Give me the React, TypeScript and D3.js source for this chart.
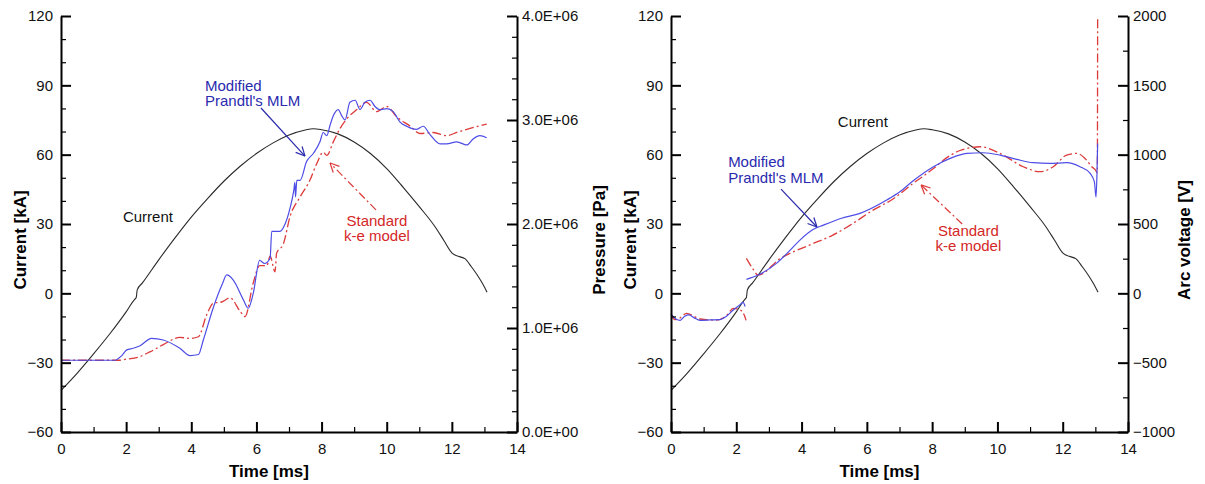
import React, { useEffect, useRef } from "react";
import * as d3 from "d3";

// discharge current, shared by both panels: time [ms] / current [kA]
const currentT = [0, 0.5, 1, 1.5, 2, 2.25, 2.29, 2.31, 2.34, 2.5, 3, 3.5, 4, 4.5, 5, 5.5, 6, 6.5, 7, 7.5, 7.75, 8, 8.5, 9, 9.5, 10, 10.5, 11, 11.5, 11.75, 12, 12.2, 12.4, 12.6, 12.8, 12.95, 13.08];
const currentKA = [-42, -34.5, -26.2, -17.5, -8, -2.8, -2.2, -1.8, 1.5, 4.5, 14.5, 24, 33, 41, 48.5, 55, 60.5, 65, 68.5, 70.7, 71.2, 70.8, 69, 65.5, 60.5, 54, 46, 37.5, 28.5, 23, 17.5, 16, 15, 11.5, 7.5, 4, 0.5];

// left panel: pressure [Pa]
const mlmPressT = [0, 1.66, 1.85, 2.02, 2.22, 2.43, 2.78, 3.14, 3.65, 3.96, 4.22, 4.37, 4.68, 4.95, 5.09, 5.29, 5.6, 5.75, 5.9, 6.1, 6.25, 6.42, 6.47, 6.5, 6.72, 6.88, 7.03, 7.15, 7.18, 7.2, 7.24, 7.34, 7.54, 7.75, 7.95, 8.05, 8.16, 8.26, 8.36, 8.51, 8.62, 8.72, 8.87, 9.03, 9.18, 9.33, 9.49, 9.64, 9.79, 10.0, 10.2, 10.41, 10.61, 10.92, 11.12, 11.33, 11.64, 11.84, 12.15, 12.46, 12.66, 12.86, 13.07];
const mlmPress = [0.69e6, 0.69e6, 0.73e6, 0.79e6, 0.805e6, 0.83e6, 0.9e6, 0.885e6, 0.805e6, 0.735e6, 0.745e6, 0.885e6, 1.2e6, 1.42e6, 1.51e6, 1.46e6, 1.27e6, 1.19e6, 1.33e6, 1.65e6, 1.62e6, 1.67e6, 1.93e6, 1.93e6, 1.93e6, 2.0e6, 2.15e6, 2.33e6, 2.4e6, 2.26e6, 2.42e6, 2.42e6, 2.6e6, 2.68e6, 2.79e6, 2.88e6, 2.85e6, 2.95e6, 3.04e6, 3.1e6, 3.04e6, 3.0e6, 3.17e6, 3.19e6, 3.1e6, 3.17e6, 3.19e6, 3.13e6, 3.1e6, 3.11e6, 3.08e6, 2.98e6, 2.94e6, 2.91e6, 2.94e6, 2.86e6, 2.77e6, 2.77e6, 2.79e6, 2.76e6, 2.82e6, 2.85e6, 2.83e6];
const kePressT = [0, 1.75, 2.0, 2.37, 2.73, 3.14, 3.65, 3.96, 4.22, 4.47, 4.68, 4.93, 5.19, 5.5, 5.65, 5.9, 6.1, 6.32, 6.42, 6.57, 6.62, 6.83, 7.03, 7.34, 7.64, 7.85, 8.05, 8.16, 8.36, 8.57, 8.77, 9.08, 9.38, 9.69, 10.0, 10.31, 10.72, 11.02, 11.43, 11.84, 12.15, 12.56, 13.07];
const kePress = [0.69e6, 0.69e6, 0.7e6, 0.72e6, 0.77e6, 0.84e6, 0.91e6, 0.9e6, 0.916e6, 1.125e6, 1.24e6, 1.25e6, 1.29e6, 1.16e6, 1.11e6, 1.43e6, 1.6e6, 1.6e6, 1.69e6, 1.54e6, 1.72e6, 1.81e6, 2.07e6, 2.26e6, 2.42e6, 2.58e6, 2.69e6, 2.66e6, 2.79e6, 2.92e6, 3.01e6, 3.1e6, 3.17e6, 3.08e6, 3.13e6, 3.03e6, 2.94e6, 2.87e6, 2.88e6, 2.85e6, 2.88e6, 2.92e6, 2.96e6];

// right panel: arc voltage [V], null = gap in the curve
const mlmVoltT = [0, 0.15, 0.28, 0.42, 0.55, 0.7, 0.89, 1.2, 1.5, 1.7, 1.91, 2.1, 2.21, 2.27, 2.29, 2.31, 2.67, 3.23, 3.65, 3.95, 4.35, 4.67, 5.2, 5.79, 6.61, 7.0, 7.41, 8.04, 8.55, 9.06, 9.57, 10.08, 10.59, 11.1, 11.61, 12.12, 12.53, 12.84, 12.97, 13.02, 13.05, 13.07];
const mlmVolt = [-150, -185, -195, -165, -155, -175, -195, -192, -190, -165, -120, -85, -65, -95, null, 101, 132, 216, 312, 384, 460, 492, 540, 577, 673, 730, 810, 913, 973, 1009, 1014, 997, 966, 942, 937, 942, 913, 865, 805, 694, 865, 1080];
const keVoltT = [0, 0.12, 0.25, 0.48, 0.7, 0.89, 1.4, 1.7, 1.91, 2.12, 2.25, 2.3, 2.305, 2.31, 2.5, 2.67, 3.34, 4.26, 4.96, 5.48, 6.19, 6.8, 7.4, 8.04, 8.35, 8.85, 9.06, 9.47, 10.08, 10.79, 11.3, 11.71, 12.12, 12.43, 12.73, 12.89, 13.0, 13.06, 13.07];
const keVolt = [-150, -190, -180, -145, -165, -185, -193, -160, -108, -120, -160, -195, null, 252, 180, 132, 250, 350, 420, 490, 600, 680, 790, 900, 961, 1030, 1045, 1057, 1009, 913, 877, 913, 997, 1009, 961, 913, 890, 870, 1985];

const timeTicks = [0, 2, 4, 6, 8, 10, 12, 14];
const currentTicks = [-60, -30, 0, 30, 60, 90, 120];
const pressureTicks = [0, 1e6, 2e6, 3e6, 4e6];
const voltageTicks = [-1000, -500, 0, 500, 1000, 1500, 2000];

const FONT = "'Liberation Sans', Arial, Helvetica, sans-serif";
const BLUE_LINE = "#4d4de6";
const BLUE_TEXT = "#2a2aae";
const RED_LINE = "#dd3a3a";
const RED_TEXT = "#d42727";

const zip = (t, v) => t.map((d, i) => [d, v[i]]);

function arrow(g, x1, y1, x2, y2, color, dash) {
  g.append("line")
    .attr("x1", x1).attr("y1", y1).attr("x2", x2).attr("y2", y2)
    .attr("stroke", color).attr("stroke-width", 1.2)
    .attr("stroke-dasharray", dash || null);
  const a = Math.atan2(y1 - y2, x1 - x2);
  [0.45, -0.45].forEach((da) => {
    g.append("line")
      .attr("x1", x2).attr("y1", y2)
      .attr("x2", x2 + 10 * Math.cos(a + da))
      .attr("y2", y2 + 10 * Math.sin(a + da))
      .attr("stroke", color).attr("stroke-width", 1.2);
  });
}

function drawPanel(svg, opt) {
  const x = d3.scaleLinear().domain([0, 14]).range([opt.left, opt.right]);
  const y = d3.scaleLinear().domain([-60, 120]).range([432, 16]);
  const y2 = d3.scaleLinear().domain(opt.y2Domain).range([432, 16]);
  const g = svg.append("g");

  const line = d3.line()
    .defined((d) => d[1] != null)
    .x((d) => x(d[0]))
    .curve(d3.curveMonotoneX);

  g.append("path")
    .attr("d", line.y((d) => y(d[1]))(zip(currentT, currentKA)))
    .attr("fill", "none").attr("stroke", "#2a2a2a").attr("stroke-width", 1.1);
  g.append("path")
    .attr("d", line.y((d) => y2(d[1]))(opt.ke))
    .attr("fill", "none").attr("stroke", RED_LINE).attr("stroke-width", 1.3)
    .attr("stroke-dasharray", "9,3,2,3");
  g.append("path")
    .attr("d", line.y((d) => y2(d[1]))(opt.mlm))
    .attr("fill", "none").attr("stroke", BLUE_LINE).attr("stroke-width", 1.2);

  const styleAxis = (sel, minor) => {
    sel.selectAll(".domain").attr("stroke-width", minor ? 0 : 2).attr("stroke", "#000");
    sel.selectAll(".tick line").attr("stroke-width", minor ? 1.2 : 2).attr("stroke", "#000");
    sel.selectAll("text").attr("font-family", FONT).attr("font-size", 15).attr("fill", "#111");
  };
  const minorOf = (step, domain, majors) =>
    d3.range(domain[0], domain[1] + step / 2, step).filter((v) => !majors.some((m) => Math.abs(m - v) < step / 10));

  g.append("g").attr("transform", "translate(0,432)")
    .call(d3.axisBottom(x).tickValues(minorOf(1, [0, 14], timeTicks)).tickSize(-5).tickFormat(() => ""))
    .call((s) => styleAxis(s, true));
  g.append("g").attr("transform", `translate(${opt.left},0)`)
    .call(d3.axisLeft(y).tickValues(minorOf(10, [-60, 120], currentTicks)).tickSize(-5).tickFormat(() => ""))
    .call((s) => styleAxis(s, true));
  g.append("g").attr("transform", `translate(${opt.right},0)`)
    .call(d3.axisRight(y2).tickValues(minorOf(opt.y2Minor, opt.y2Domain, opt.y2Ticks)).tickSize(-5).tickFormat(() => ""))
    .call((s) => styleAxis(s, true));

  g.append("g").attr("transform", "translate(0,432)")
    .call(d3.axisBottom(x).tickValues(timeTicks).tickSize(-10).tickSizeOuter(0).tickPadding(11).tickFormat(d3.format("d")))
    .call((s) => styleAxis(s, false));
  g.append("g").attr("transform", `translate(${opt.left},0)`)
    .call(d3.axisLeft(y).tickValues(currentTicks).tickSize(-10).tickSizeOuter(0).tickPadding(8).tickFormat(d3.format("d")))
    .call((s) => styleAxis(s, false));
  g.append("g").attr("transform", `translate(${opt.right},0)`)
    .call(d3.axisRight(y2).tickValues(opt.y2Ticks).tickSize(-10).tickSizeOuter(0).tickPadding(5).tickFormat(opt.y2Format))
    .call((s) => styleAxis(s, false));

  // axis titles
  const title = (tx, ty, rot, text) =>
    g.append("text")
      .attr("transform", `translate(${tx},${ty}) rotate(${rot})`)
      .attr("text-anchor", "middle")
      .attr("font-family", FONT).attr("font-weight", "bold").attr("font-size", 17)
      .attr("fill", "#000").text(text);
  title((opt.left + opt.right) / 2 - 20, 477, 0, "Time [ms]");
  title(opt.left - 35, 240, -90, "Current [kA]");
  title(opt.right + opt.y2TitleOffset, 240, -90, opt.y2Title);

  // annotations
  const label = (t, kA, text, color, anchor) =>
    g.append("text")
      .attr("x", x(t)).attr("y", y(kA)).attr("dy", "0.35em")
      .attr("text-anchor", anchor)
      .attr("font-family", FONT).attr("font-size", 15)
      .attr("fill", color).text(text);
  const an = opt.notes;
  label(an.current[0], an.current[1], "Current", "#111", "start");
  label(an.mlm[0], an.mlm[1], "Modified", BLUE_TEXT, "start");
  label(an.mlm[0], an.mlm[1] - 6.6, "Prandtl's MLM", BLUE_TEXT, "start");
  label(an.ke[0], an.ke[1], "Standard", RED_TEXT, "middle");
  label(an.ke[0], an.ke[1] - 6.6, "k-e model", RED_TEXT, "middle");
  arrow(g, x(an.mlmArrow[0]), y(an.mlmArrow[1]), x(an.mlmArrow[2]), y(an.mlmArrow[3]), BLUE_TEXT);
  arrow(g, x(an.keArrow[0]), y(an.keArrow[1]), x(an.keArrow[2]), y(an.keArrow[3]), RED_LINE, "8,3,2,3");
}

const App = () => {
  const ref = useRef(null);

  useEffect(() => {
    const svg = d3.select(ref.current);
    svg.selectAll("*").remove();

    drawPanel(svg, {
      left: 61,
      right: 517,
      y2Domain: [0, 4e6],
      y2Ticks: pressureTicks,
      y2Minor: 0.2e6,
      y2Format: (v) => `${(v / 1e6).toFixed(1)}E+${v === 0 ? "00" : "06"}`,
      y2Title: "Pressure [Pa]",
      y2TitleOffset: 88,
      mlm: zip(mlmPressT, mlmPress),
      ke: zip(kePressT, kePress),
      notes: {
        current: [1.9, 33],
        mlm: [4.42, 90],
        ke: [9.7, 31.3],
        mlmArrow: [6.14, 80.2, 7.49, 59.4],
        keArrow: [9.67, 36.1, 8.26, 56.4],
      },
    });

    drawPanel(svg, {
      left: 671,
      right: 1128,
      y2Domain: [-1000, 2000],
      y2Ticks: voltageTicks,
      y2Minor: 250,
      y2Format: d3.format("d"),
      y2Title: "Arc voltage [V]",
      y2TitleOffset: 62,
      mlm: zip(mlmVoltT, mlmVolt),
      ke: zip(keVoltT, keVolt),
      notes: {
        current: [5.11, 74.1],
        mlm: [1.75, 56.8],
        ke: [9.11, 27],
        mlmArrow: [3.37, 45.1, 4.47, 28.7],
        keArrow: [8.92, 30, 7.66, 46.9],
      },
    });
  }, []);

  return (
    <svg
      ref={ref}
      width={1205}
      height={484}
      style={{ position: "absolute", left: 0, top: 0, background: "#fff" }}
    />
  );
};

export default App;
